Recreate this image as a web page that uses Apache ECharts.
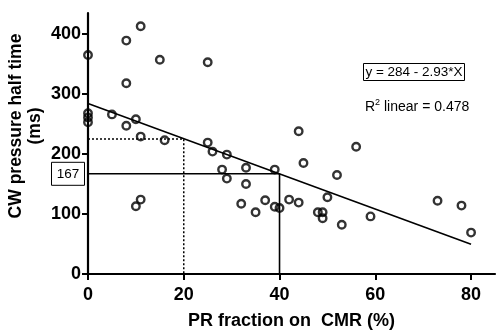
<!DOCTYPE html>
<html>
<head>
<meta charset="utf-8">
<script src="https://cdn.jsdelivr.net/npm/echarts@6/dist/echarts.min.js"></script>
<style>
  html, body { margin: 0; padding: 0; background: #fff; }
  #chart { width: 500px; height: 336px; }
</style>
</head>
<body>
<div id="chart"></div>
<script>
// PR fraction on CMR (%) for each patient
const prFraction = [0, 0, 0, 0, 5, 8, 8, 8, 10, 10, 11, 11, 11, 15, 16,
  25, 25, 26, 28, 29, 29, 32, 33, 33, 35, 37, 39, 39, 40, 42,
  44, 44, 45, 48, 49, 49, 50, 52, 53, 56, 59, 73, 78, 80];
// CW pressure half time (ms) for each patient
const halfTime = [365, 268, 261, 253, 266, 389, 318, 247, 258, 113, 413, 229, 124, 357, 223,
  353, 219, 204, 174, 199, 159, 117, 177, 150, 103, 123, 174, 112, 110, 124,
  238, 119, 185, 103, 103, 93, 128, 165, 82, 212, 96, 122, 114, 69];

const xTicks = [0, 20, 40, 60, 80];
const yTicks = [0, 100, 200, 300, 400];

// linear regression  y = a + b*x
const fitIntercept = 284;
const fitSlope = -2.93;
const fitRange = [0, 80];
const rSquared = 0.478;

// read-off guides
const solidGuide = { x: 40, y: 167 };
const dottedGuide = { x: 20, y: 225 };

const points = prFraction.map((x, i) => [x, halfTime[i]]);
const fitLine = fitRange.map(x => [x, +(fitIntercept + fitSlope * x).toFixed(2)]);

const FONT = '"Liberation Sans", Arial, sans-serif';
const chart = echarts.init(document.getElementById('chart'), null, { renderer: 'canvas' });

chart.setOption({
  backgroundColor: '#fff',
  animation: false,
  grid: { left: 88, right: 5, top: 13, bottom: 62, containLabel: false },
  xAxis: {
    type: 'value', min: 0, max: 85,
    name: 'PR fraction on  CMR (%)',
    nameLocation: 'middle', nameGap: 38,
    nameTextStyle: { fontFamily: FONT, fontWeight: 'bold', fontSize: 18, color: '#000' },
    axisLine: { onZero: false, lineStyle: { color: '#000', width: 2.2 } },
    axisTick: { show: true, length: 6, lineStyle: { color: '#000', width: 2 }, customValues: xTicks },
    axisLabel: { customValues: xTicks, margin: 12, fontFamily: FONT, fontWeight: 'bold', fontSize: 18, color: '#000' },
    splitLine: { show: false }
  },
  yAxis: {
    type: 'value', min: 0, max: 435,
    axisLine: { onZero: false, lineStyle: { color: '#000', width: 2.2 } },
    axisTick: { show: true, length: 6, lineStyle: { color: '#000', width: 2 }, customValues: yTicks },
    axisLabel: { customValues: yTicks, margin: 7, fontFamily: FONT, fontWeight: 'bold', fontSize: 18, color: '#000' },
    splitLine: { show: false }
  },
  series: [
    {
      type: 'line', data: [[0, dottedGuide.y], [dottedGuide.x, dottedGuide.y], [dottedGuide.x, 0]],
      symbol: 'none', silent: true,
      lineStyle: { color: '#000', width: 1.5, type: [2, 2] }
    },
    {
      type: 'line', data: [[0, solidGuide.y], [solidGuide.x, solidGuide.y], [solidGuide.x, 0]],
      symbol: 'none', silent: true,
      lineStyle: { color: '#000', width: 1.6 }
    },
    {
      type: 'line', data: fitLine, symbol: 'none', silent: true,
      lineStyle: { color: '#000', width: 1.6 }
    },
    {
      type: 'scatter', data: points, symbol: 'circle', symbolSize: 7.5,
      itemStyle: { color: 'rgba(0,0,0,0)', borderColor: '#000', borderWidth: 2.4 }
    }
  ]
});

// annotations: y-axis title, regression equation, R², and the read-off value box
const guidePx = chart.convertToPixel({ gridIndex: 0 }, [0, solidGuide.y]);
chart.setOption({
  graphic: [
    {
      type: 'text', x: 26, y: 126, rotation: Math.PI / 2,
      style: {
        text: 'CW pressure half time\n(ms)', align: 'center', verticalAlign: 'middle',
        fontFamily: FONT, fontWeight: 'bold', fontSize: 17.5, lineHeight: 19, fill: '#000'
      }
    },
    {
      type: 'rect', shape: { x: 363.5, y: 63.5, width: 101, height: 17 },
      style: { fill: 'none', stroke: '#000', lineWidth: 1 }
    },
    {
      type: 'text', x: 414, y: 72.5,
      style: {
        text: 'y = ' + fitIntercept + ' - ' + Math.abs(fitSlope).toFixed(2) + '*X',
        align: 'center', verticalAlign: 'middle', fontFamily: FONT, fontSize: 13.5, fill: '#000'
      }
    },
    {
      type: 'text', x: 365, y: 106,
      style: {
        text: '{r|R}{s|2}{r| linear = ' + rSquared + '}',
        align: 'left', verticalAlign: 'middle',
        rich: {
          r: { fontFamily: FONT, fontSize: 14, fill: '#000', lineHeight: 16, verticalAlign: 'bottom' },
          s: { fontFamily: FONT, fontSize: 9, fill: '#000', lineHeight: 16, verticalAlign: 'top' }
        }
      }
    },
    {
      type: 'rect', shape: { x: 51.5, y: guidePx[1] - 11.5, width: 33, height: 23 },
      style: { fill: '#fff', stroke: '#000', lineWidth: 1 }
    },
    {
      type: 'text', x: 68, y: guidePx[1] + 0.5,
      style: {
        text: String(solidGuide.y), align: 'center', verticalAlign: 'middle',
        fontFamily: FONT, fontSize: 13.5, fill: '#000'
      }
    }
  ]
});
</script>
</body>
</html>
